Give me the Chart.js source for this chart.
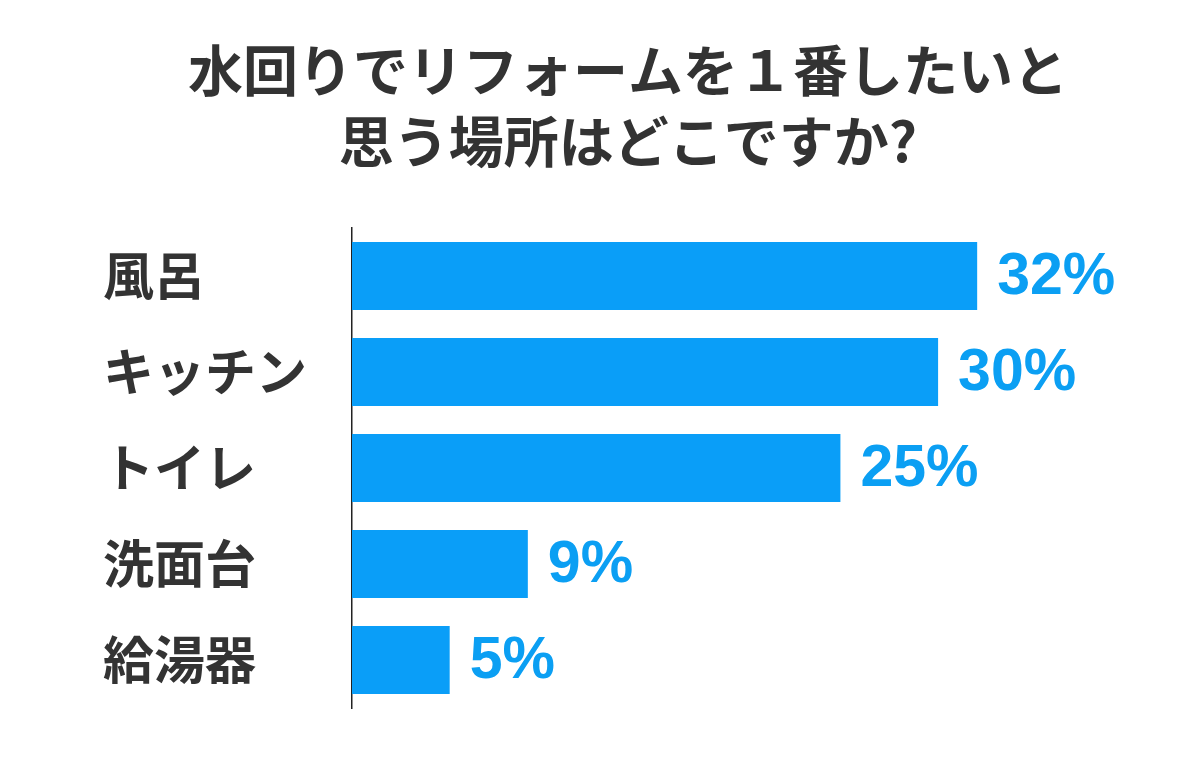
<!DOCTYPE html>
<html>
<head>
<meta charset="utf-8">
<script src="https://cdn.jsdelivr.net/npm/chart.js@4"></script>
<style>
  html, body { margin: 0; padding: 0; background: #fff; }
  #wrap { width: 1198px; height: 764px; }
</style>
</head>
<body>
<div id="wrap"><canvas id="bar-chart" width="1198" height="764"></canvas></div>
<script>
const titleLines = ['水回りでリフォームを１番したいと', '思う場所はどこですか?'];
const places = ['風呂', 'キッチン', 'トイレ', '洗面台', '給湯器'];
const percents = [32, 30, 25, 9, 5];

const barColor = '#0a9ef8';
const textColor = '#333333';

// value labels to the right of each bar
const valueLabels = {
    id: 'valueLabels',
    afterDatasetsDraw(chart) {
        const ctx = chart.ctx;
        const meta = chart.getDatasetMeta(0);
        ctx.save();
        ctx.fillStyle = '#0b9ff3';
        ctx.font = 'bold 59px "Liberation Sans", Arial, sans-serif';
        ctx.textAlign = 'left';
        ctx.textBaseline = 'middle';
        meta.data.forEach((bar, i) => {
            ctx.fillText(percents[i] + '%', bar.x + 20, bar.y + 2);
        });
        ctx.restore();
    }
};

const config = {
    type: 'bar',
    data: {
        labels: places,
        datasets: [{
            data: percents,
            backgroundColor: barColor,
            borderWidth: 0,
            barPercentage: 0.71,
            categoryPercentage: 1
        }]
    },
    options: {
        indexAxis: 'y',
        responsive: false,
        animation: false,
        layout: { padding: { top: 34, left: 103, right: 45, bottom: 56 } },
        plugins: {
            legend: { display: false },
            tooltip: { enabled: false },
            title: {
                display: true,
                text: titleLines,
                color: textColor,
                font: { family: '"Noto Sans CJK JP", sans-serif', size: 55, weight: 'bold', lineHeight: 1.3 },
                padding: { top: 0, bottom: 51 }
            }
        },
        scales: {
            x: {
                display: false,
                min: 0,
                max: 41
            },
            y: {
                grid: { display: false, drawTicks: false },
                border: { display: true, color: '#222', width: 1.5 },
                afterFit(scale) { scale.width = 249; },
                ticks: {
                    crossAlign: 'far',
                    color: textColor,
                    padding: 0,
                    font: { family: '"Noto Sans CJK JP", sans-serif', size: 51, weight: 'bold' }
                }
            }
        }
    },
    plugins: [valueLabels]
};

const barChart = document.querySelector('#bar-chart');
if (barChart) {
    const barChartOb = new Chart(barChart, config);
}
</script>
</body>
</html>
